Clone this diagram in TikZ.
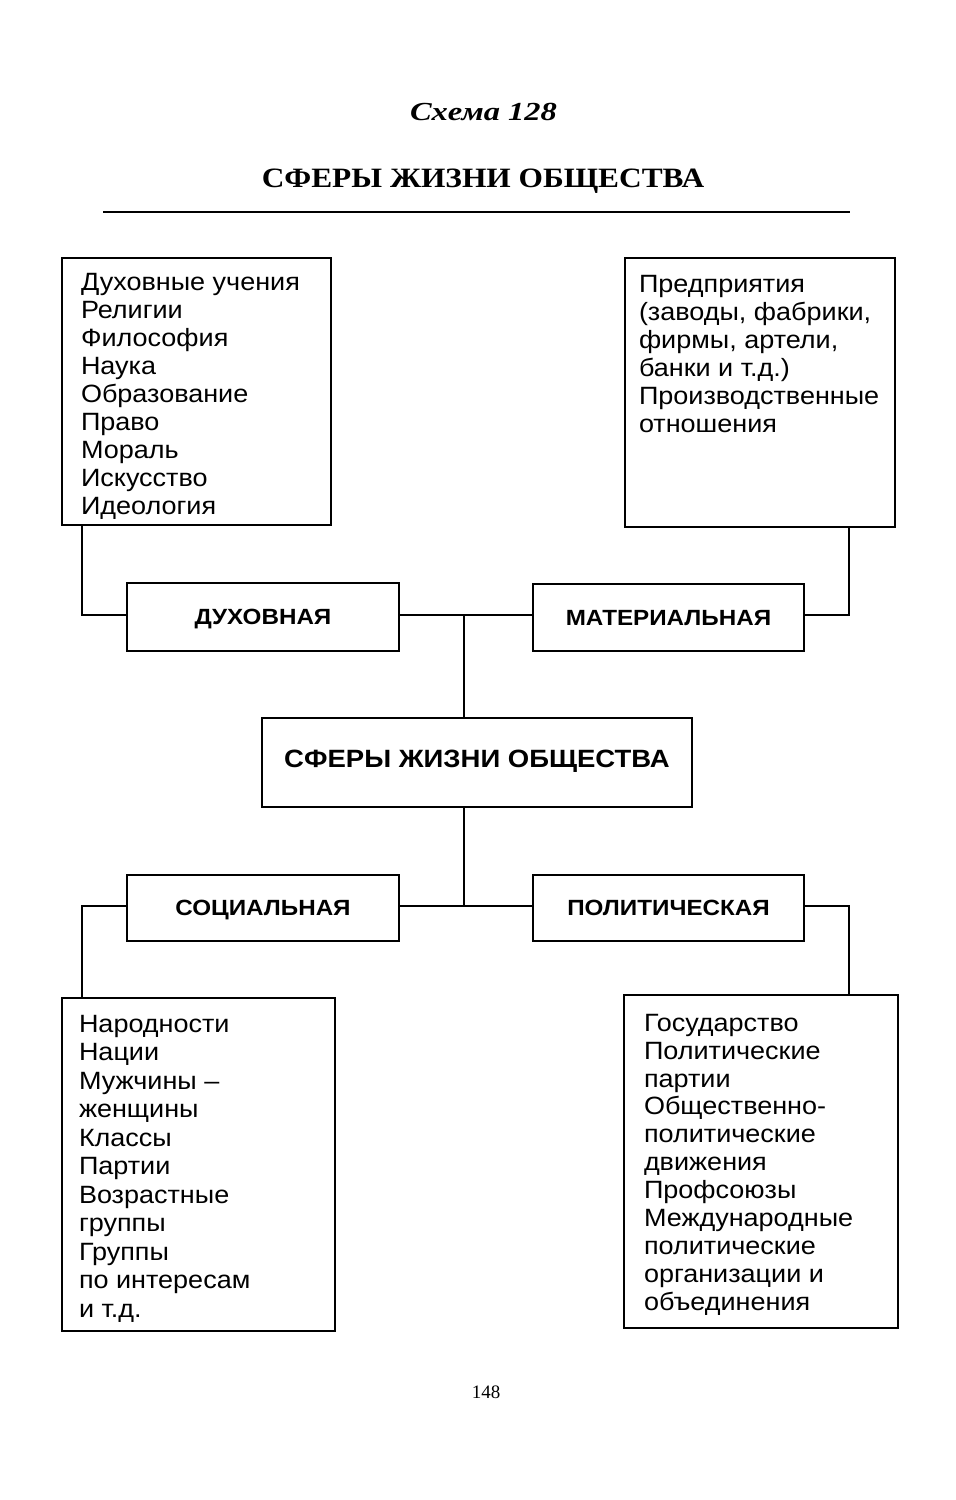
\documentclass[tikz,border=0pt]{standalone}
\usepackage{fontspec}
\setmainfont{Liberation Serif}
\newfontfamily\listfont[FakeStretch=1.08]{Liberation Sans}
\newfontfamily\labfont[FakeStretch=1.1]{Liberation Sans}
\newfontfamily\titfont[FakeStretch=1.12]{Liberation Serif}
\newfontfamily\schfont[FakeStretch=1.25]{Liberation Serif}
\begin{document}
\begin{tikzpicture}[x=1pt,y=-1pt,
  line width=2pt,
  box/.style={draw,line width=2pt,inner sep=0pt,anchor=north west},
  txt/.style={inner sep=0pt,anchor=north west,align=left,
    font=\listfont\fontsize{25}{28}\selectfont},
  lab/.style={inner sep=0pt,font=\labfont\bfseries\fontsize{22}{25}\selectfont,
    text height=15.5pt,text depth=0pt},
  clab/.style={inner sep=0pt,font=\labfont\bfseries\fontsize{25}{29}\selectfont,
    text height=17.5pt,text depth=0pt},
  conn/.style={draw,line width=2pt}]
\useasboundingbox[fill=white] (0,0) rectangle (956,1500);

% headings
\node[anchor=base,inner sep=0pt,font=\schfont\bfseries\itshape\fontsize{26}{30}\selectfont] (sch) at (483.5,120) {Схема 128};
\node[anchor=base,inner sep=0pt,font=\titfont\bfseries\fontsize{28}{32}\selectfont] (tit) at (483,187) {СФЕРЫ ЖИЗНИ ОБЩЕСТВА};
\coordinate (rl) at (103,212);
\coordinate (rr) at (850,212);
\draw[line width=2pt] (rl) -- (rr);

% outer boxes
\node[box,minimum width=269pt,minimum height=267pt] (tl) at (61,257) {};
\node[txt] (tlt) at (80,272) {Духовные учения\\Религии\\Философия\\Наука\\Образование\\Право\\Мораль\\Искусство\\Идеология};

\node[box,minimum width=270pt,minimum height=269pt] (tr) at (624,257) {};
\node[txt] (trt) at (638,274) {Предприятия\\(заводы, фабрики,\\фирмы, артели,\\банки и т.д.)\\Производственные\\отношения};

\node[box,minimum width=273pt,minimum height=333pt] (bl) at (61,997) {};
\node[txt,font=\listfont\fontsize{25}{28.5}\selectfont] (blt) at (78,1014) {Народности\\Нации\\Мужчины –\\женщины\\Классы\\Партии\\Возрастные\\группы\\Группы\\по интересам\\и т.д.};

\node[box,minimum width=274pt,minimum height=333pt] (br) at (623,994) {};
\node[txt,font=\listfont\fontsize{25}{27.9}\selectfont] (brt) at (643,1013) {Государство\\Политические\\партии\\Общественно-\\политические\\движения\\Профсоюзы\\Международные\\политические\\организации и\\объединения};

% sphere boxes
\node[box,minimum width=272pt,minimum height=68pt] (duh) at (126,582) {};
\node[lab] (duht) at (duh.center) {ДУХОВНАЯ};
\node[box,minimum width=271pt,minimum height=67pt] (mat) at (532,583) {};
\node[lab] (matt) at (mat.center) {МАТЕРИАЛЬНАЯ};
\node[box,minimum width=430pt,minimum height=89pt] (cen) at (261,717) {};
\node[clab] (cent) at ([yshift=3.5pt]cen.center) {СФЕРЫ ЖИЗНИ ОБЩЕСТВА};
\node[box,minimum width=272pt,minimum height=66pt] (soc) at (126,874) {};
\node[lab] (soct) at (soc.center) {СОЦИАЛЬНАЯ};
\node[box,minimum width=271pt,minimum height=66pt] (pol) at (532,874) {};
\node[lab] (polt) at (pol.center) {ПОЛИТИЧЕСКАЯ};

% connectors
\coordinate (jt) at (464,615);
\coordinate (jb) at (464,906);
\coordinate (cTL) at (82,615);
\coordinate (cTR) at (849,615);
\coordinate (cBL) at (82,906);
\coordinate (cBR) at (849,906);

\draw[conn] (duh.east |- jt) -- (mat.west |- jt);
\draw[conn] (jt) -- (jt |- cen.north);
\draw[conn] (jt |- cen.south) -- (jb);
\draw[conn] (soc.east |- jb) -- (pol.west |- jb);
\draw[conn] (tl.south -| cTL) -- (cTL) -- (duh.west |- cTL);
\draw[conn] (mat.east |- cTR) -- (cTR) -- (tr.south -| cTR);
\draw[conn] (soc.west |- cBL) -- (cBL) -- (bl.north -| cBL);
\draw[conn] (pol.east |- cBR) -- (cBR) -- (br.north -| cBR);

% page number
\node[anchor=base,inner sep=0pt,font=\fontsize{19}{22}\selectfont] (pg) at (486,1398) {148};
\end{tikzpicture}
\end{document}
